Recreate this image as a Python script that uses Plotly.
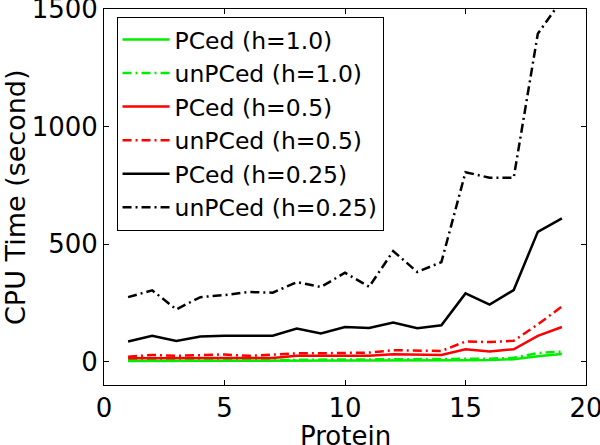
import plotly.graph_objects as go

protein = list(range(1, 20))

pced_h10 = [2, 2, 2, 2, 3, 3, 3, 4, 4, 4, 4, 5, 4, 4, 5, 6, 10, 22, 32]
unpced_h10 = [5, 6, 5, 6, 7, 7, 6, 8, 8, 9, 9, 10, 9, 9, 12, 12, 16, 36, 42]
pced_h05 = [14, 15, 15, 15, 15, 15, 15, 24, 25, 25, 25, 31, 28, 28, 52, 43, 52, 109, 147]
unpced_h05 = [20, 28, 24, 27, 30, 24, 30, 35, 35, 38, 38, 48, 45, 45, 85, 83, 88, 158, 234]
pced_h025 = [85, 109, 87, 106, 110, 110, 110, 140, 119, 147, 143, 166, 142, 154, 290, 242, 304, 552, 609]
unpced_h025 = [274, 303, 222, 274, 283, 296, 293, 338, 317, 378, 318, 470, 381, 423, 806, 782, 782, 1395, 1540]

x_title = "Protein"
y_title = "CPU Time (second)"

series = [
    ("PCed (h=1.0)", pced_h10, "#00ee00", "solid"),
    ("unPCed (h=1.0)", unpced_h10, "#00ee00", "9px,4px,2px,4px"),
    ("PCed (h=0.5)", pced_h05, "#ff0000", "solid"),
    ("unPCed (h=0.5)", unpced_h05, "#ff0000", "9px,4px,2px,4px"),
    ("PCed (h=0.25)", pced_h025, "#000000", "solid"),
    ("unPCed (h=0.25)", unpced_h025, "#000000", "9px,4px,2px,4px"),
]

fig = go.Figure()
for i, (name, vals, color, dash) in enumerate(series):
    fig.add_trace(go.Scatter(
        x=protein, y=vals, mode="lines", name=name,
        line=dict(color=color, width=2.5, dash=dash),
    ))

font = "DejaVu Sans, Verdana, sans-serif"
fig.update_layout(
    width=600, height=445,
    margin=dict(l=104, r=14, t=9, b=60),
    paper_bgcolor="white", plot_bgcolor="white",
    font=dict(family=font, size=25, color="black"),
    showlegend=True,
    legend=dict(
        x=0.026, y=0.9795, xanchor="left", yanchor="top",
        bgcolor="white", bordercolor="black", borderwidth=1,
        font=dict(family=font, size=23.5, color="black"),
        itemwidth=47,
        tracegroupgap=0,
    ),
    xaxis=dict(
        range=[0, 20], tickvals=[0, 5, 10, 15, 20],
        showgrid=False, zeroline=False, automargin=False,
        showline=True, linecolor="black", linewidth=1, mirror="ticks",
        ticks="inside", ticklen=5, tickcolor="black",
        tickfont=dict(size=26), ticklabeloverflow="allow",
    ),
    yaxis=dict(
        range=[-100, 1500.5], tickvals=[0, 500, 1000, 1500],
        showgrid=False, zeroline=False, automargin=False,
        showline=True, linecolor="black", linewidth=1, mirror="ticks",
        ticks="inside", ticklen=5, tickcolor="black",
        tickfont=dict(size=26), ticklabeloverflow="allow",
    ),
    annotations=[
        dict(text=x_title, xref="paper", yref="paper", x=0.5, y=0,
             xanchor="center", yanchor="middle", yshift=-51, showarrow=False,
             font=dict(family=font, size=26, color="black")),
        dict(text=y_title, xref="paper", yref="paper", x=0, y=0.5,
             xanchor="center", yanchor="middle", xshift=-89, showarrow=False,
             textangle=-90, font=dict(family=font, size=27, color="black")),
    ],
)

fig.write_html(
    "out.html",
    config={"displayModeBar": False},
    post_script="document.body.style.margin='0';",
)
